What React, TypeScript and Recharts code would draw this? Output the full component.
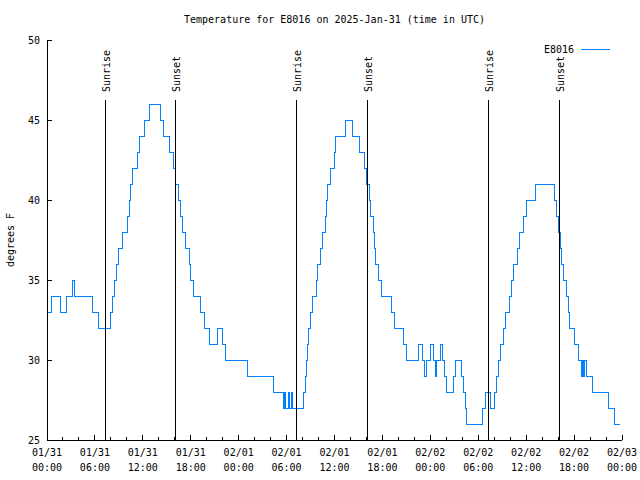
import React from 'react';
import { LineChart, Line, XAxis, YAxis, ReferenceLine } from 'recharts';

// Hours since 2025-01-31 00:00 UTC at which the reading changes, and the new reading (°F)
const day1Hours = [0, 0.55, 1.7, 2.5, 3.2, 3.5, 5.7, 6.5, 8.0, 8.2, 8.5, 8.7, 9.0, 9.45, 10.1, 10.3, 10.45, 10.65, 11.35, 11.55, 12.25, 12.85, 14.25, 14.65, 15.4, 15.8, 16.1, 16.45, 16.7, 16.95, 17.37, 17.83, 18.0, 18.33, 19.25, 19.67, 20.38, 21.3, 21.97, 22.35];
const day1Temps = [33, 34, 33, 34, 35, 34, 33, 32, 33, 34, 35, 36, 37, 38, 39, 40, 41, 42, 43, 44, 45, 46, 45, 44, 43, 42, 41, 40, 39, 38, 37, 36, 35, 34, 33, 32, 31, 32, 31, 30];

const day2Hours = [25.13, 28.38, 29.6, 29.75, 29.9, 30.2, 30.35, 30.62, 30.78, 32.15, 32.33, 32.47, 32.6, 32.73, 32.97, 33.27, 33.69, 33.9, 34.19, 34.48, 34.82, 34.94, 35.15, 35.53, 35.95, 36.11, 37.33, 38.29, 39.08, 39.77, 40.02, 40.32, 40.57, 40.86, 41.03, 41.15, 41.57, 41.86, 43.15, 43.53, 44.62, 44.99, 46.58, 47.04, 47.29, 47.54, 48.04, 48.37, 48.62, 48.83, 49.33, 49.58, 49.83, 50.08];
const day2Temps = [29, 28, 27, 28, 27, 28, 27, 28, 27, 28, 29, 30, 31, 32, 33, 34, 35, 36, 37, 38, 39, 40, 41, 42, 43, 44, 45, 44, 43, 42, 41, 40, 39, 38, 37, 36, 35, 34, 33, 32, 31, 30, 31, 30, 29, 30, 31, 30, 29, 30, 31, 30, 29, 28];

const day3Hours = [50.88, 51.17, 51.88, 52.17, 52.42, 52.59, 54.59, 54.88, 55.59, 56.09, 56.34, 56.59, 56.84, 57.14, 57.43, 57.89, 58.18, 58.43, 58.89, 59.14, 59.64, 60.1, 61.14, 63.56, 63.81, 64.06, 64.32, 64.48, 64.73, 65.07, 65.32, 65.48, 66.07, 66.61, 66.99, 67.07, 67.2, 67.28, 67.53, 68.32, 70.28, 71.12, 71.8];
const day3Temps = [29, 30, 29, 28, 27, 26, 27, 28, 27, 28, 29, 30, 31, 32, 33, 34, 35, 36, 37, 38, 39, 40, 41, 40, 39, 38, 37, 36, 35, 34, 33, 32, 31, 30, 29, 30, 29, 30, 29, 28, 27, 26, 26];

const sunriseHours = [7.28, 31.25, 55.24];
const sunsetHours = [16.15, 40.1, 64.15];

const xTicks = [0, 2, 4, 6, 8, 10, 12, 14, 16, 18, 20, 22, 24, 26, 28, 30, 32, 34, 36, 38, 40, 42, 44, 46, 48, 50, 52, 54, 56, 58, 60, 62, 64, 66, 68, 70, 72];
const xDateLabels = ['01/31', '01/31', '01/31', '01/31', '02/01', '02/01', '02/01', '02/01', '02/02', '02/02', '02/02', '02/02', '02/03'];
const xTimeLabels = ['00:00', '06:00', '12:00', '18:00', '00:00', '06:00', '12:00', '18:00', '00:00', '06:00', '12:00', '18:00', '00:00'];
const yTicks = [25, 30, 35, 40, 45, 50];

const seriesName = 'E8016';
const titleText = 'Temperature for E8016 on 2025-Jan-31 (time in UTC)';
const yLabelText = 'degrees F';

const allHours = [...day1Hours, ...day2Hours, ...day3Hours];
const allTemps = [...day1Temps, ...day2Temps, ...day3Temps];
const data = allHours.map((h, i) => ({ h, temp: allTemps[i] }));

const FONT = '"DejaVu Sans Mono", monospace';
const txt: React.CSSProperties = { fontFamily: FONT, fontSize: 10, fill: '#000' };
const LINE_TOP = 46.25;

const BottomTick = (props: any) => {
  const { x, y, payload } = props;
  const v = payload.value as number;
  const major = v % 6 === 0;
  const idx = v / 6;
  return (
    <g>
      <line x1={x} x2={x} y1={y} y2={y - (major ? 5 : 3)} stroke="#000" strokeWidth={1} />
      {major && (
        <text x={x} y={y + 15.5} textAnchor="middle" style={txt}>{xDateLabels[idx]}</text>
      )}
      {major && (
        <text x={x} y={y + 30.5} textAnchor="middle" style={txt}>{xTimeLabels[idx]}</text>
      )}
    </g>
  );
};

const TopTick = (props: any) => {
  const { x, y, payload } = props;
  const major = (payload.value as number) % 6 === 0;
  return <line x1={x} x2={x} y1={y} y2={y + (major ? 5 : 3)} stroke="#000" strokeWidth={1} />;
};

const LeftTick = (props: any) => {
  const { x, y, payload } = props;
  return (
    <g>
      <line x1={x} x2={x + 5} y1={y} y2={y} stroke="#000" strokeWidth={1} />
      <text x={x - 7} y={y + 3.5} textAnchor="end" style={txt}>{payload.value}</text>
    </g>
  );
};

const RightTick = (props: any) => {
  const { x, y } = props;
  return <line x1={x} x2={x - 5} y1={y} y2={y} stroke="#000" strokeWidth={1} />;
};

const makeSunShape = (label: string) => (p: any) => {
  const x = p.x1;
  const yTop = Math.min(p.y1, p.y2);
  const yBot = Math.max(p.y1, p.y2);
  const tx = x + 4.5;
  const ty = yTop - 8;
  return (
    <g>
      <line x1={x} x2={x} y1={yTop} y2={yBot} stroke="#000" strokeWidth={1} />
      <text x={tx} y={ty} transform={`rotate(-90 ${tx} ${ty})`} textAnchor="start" style={txt}>{label}</text>
    </g>
  );
};

export default function App() {
  return (
    <div style={{ position: 'absolute', left: 0, top: 0, width: 640, height: 480, background: '#fff' }}>
      <style>{'.recharts-wrapper svg line, .recharts-wrapper svg path { shape-rendering: crispEdges; }'}</style>
      <LineChart width={640} height={480} data={data} margin={{ top: 40, right: 18, bottom: 0, left: 0 }}>
        <XAxis xAxisId="bottom" dataKey="h" type="number" domain={[0, 72]} ticks={xTicks} interval={0}
          height={40} tickSize={0} tickMargin={0} tickLine={false} axisLine={{ stroke: '#000' }} tick={<BottomTick />} allowDataOverflow />
        <XAxis xAxisId="top" orientation="top" dataKey="h" type="number" domain={[0, 72]} ticks={xTicks} interval={0}
          height={0} tickSize={0} tickMargin={0} tickLine={false} axisLine={{ stroke: '#000' }} tick={<TopTick />} allowDataOverflow />
        <YAxis yAxisId="left" type="number" domain={[25, 50]} ticks={yTicks} interval={0}
          width={47} tickSize={0} tickMargin={0} tickLine={false} axisLine={{ stroke: '#000' }} tick={<LeftTick />} allowDataOverflow />
        <YAxis yAxisId="right" orientation="right" type="number" domain={[25, 50]} ticks={yTicks} interval={0}
          width={0} tickSize={0} tickMargin={0} tickLine={false} axisLine={{ stroke: '#000' }} tick={<RightTick />} allowDataOverflow />
        <Line xAxisId="bottom" yAxisId="left" type="stepAfter" dataKey="temp" name={seriesName} stroke="#0080ff"
          strokeWidth={1} dot={false} activeDot={false} isAnimationActive={false} />
        {sunriseHours.map((h) => (
          <ReferenceLine key={'sr' + h} xAxisId="bottom" yAxisId="left"
            segment={[{ x: h, y: LINE_TOP }, { x: h, y: 25 }]} stroke="#000" shape={makeSunShape('Sunrise')} />
        ))}
        {sunsetHours.map((h) => (
          <ReferenceLine key={'ss' + h} xAxisId="bottom" yAxisId="left"
            segment={[{ x: h, y: LINE_TOP }, { x: h, y: 25 }]} stroke="#000" shape={makeSunShape('Sunset')} />
        ))}
      </LineChart>
      <svg width={640} height={480} style={{ position: 'absolute', left: 0, top: 0, pointerEvents: 'none' }}>
        <text x={334.5} y={22.5} textAnchor="middle" style={txt}>{titleText}</text>
        <text x={14} y={240} transform="rotate(-90 14 240)" textAnchor="middle" style={txt}>{yLabelText}</text>
        <text x={574} y={53} textAnchor="end" style={txt}>{seriesName}</text>
        <line x1={581} x2={610} y1={49.5} y2={49.5} stroke="#0080ff" strokeWidth={1} />
      </svg>
    </div>
  );
}
